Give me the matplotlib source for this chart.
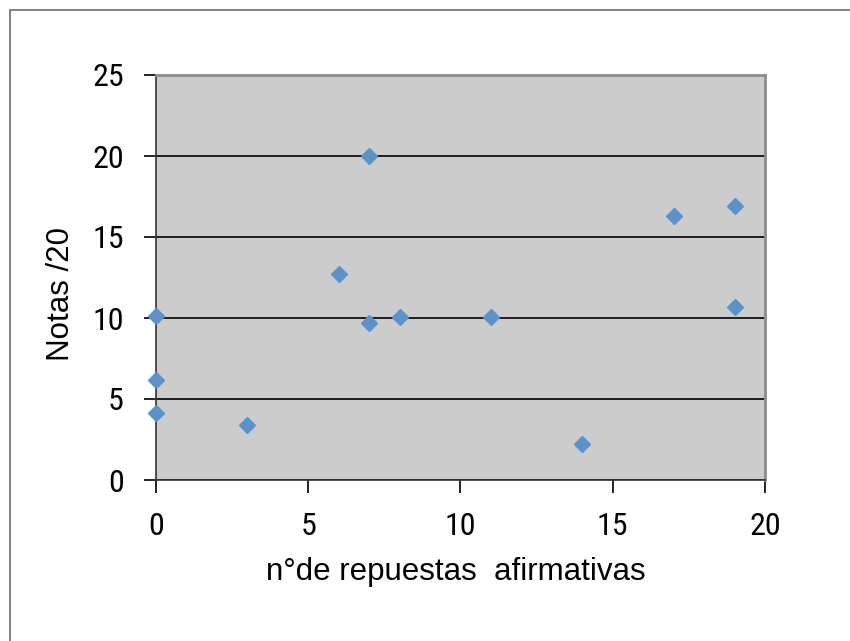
import matplotlib
matplotlib.use("Agg")
import matplotlib.pyplot as plt
from matplotlib.patches import Rectangle

plt.rcParams['font.family'] = ['Liberation Sans', 'DejaVu Sans']
narrow = ['Roboto Condensed', 'Liberation Sans', 'DejaVu Sans']

respuestas = [0, 0, 0, 3, 6, 7, 7, 8, 11, 14, 17, 19, 19]
notas = [10.1, 6.2, 4.15, 3.4, 12.7, 20.0, 9.7, 10.05, 10.05, 2.2, 16.3, 16.9, 10.7]
xticks = [0, 5, 10, 15, 20]
yticks = [0, 5, 10, 15, 20, 25]

W, H = 850, 641
fig = plt.figure(figsize=(W / 100, H / 100), dpi=100)
fig.patch.set_facecolor('white')
# outer chart border (only left/top visible, cropped)
fig.add_artist(Rectangle((10 / W, -0.1), 1.2, 1 - 10 / H + 0.1, transform=fig.transFigure,
                         fill=False, edgecolor='#6e6e6e', linewidth=1.2))

ax = fig.add_axes([156 / W, 1 - 480 / H, (765 - 156) / W, (480 - 75) / H])
ax.set_facecolor('#cccccc')
ax.set_xlim(0, 20)
ax.set_ylim(0, 25)
ax.set_xticks(xticks)
ax.set_yticks(yticks)
ax.yaxis.grid(True, color='black', linewidth=1.2)
ax.set_axisbelow(True)

ax.plot(respuestas, notas, linestyle='none', marker='D', markersize=8,
        markerfacecolor='#5b92c9', markeredgecolor='#5b92c9', clip_on=False, zorder=5)

for s in ['top', 'right']:
    ax.spines[s].set_color('#8c8c8c')
    ax.spines[s].set_linewidth(2)
for s in ['left', 'bottom']:
    ax.spines[s].set_color('#333333')
    ax.spines[s].set_linewidth(1.2)

ax.tick_params(axis='both', direction='out', length=9, width=1.2, color='black',
               labelsize=23)
ax.tick_params(axis='x', pad=14)
ax.tick_params(axis='y', pad=14)
for lab in ax.get_xticklabels() + ax.get_yticklabels():
    lab.set_fontfamily(narrow)

fig.text(456 / W, 1 - 572 / H, 'n°de repuestas  afirmativas', fontsize=22.5,
         ha='center', va='center')
fig.text(61 / W, 1 - 294 / H, 'Notas /20', fontsize=22.5, rotation=90,
         ha='center', va='center')

fig.savefig('out.png', dpi=100)
